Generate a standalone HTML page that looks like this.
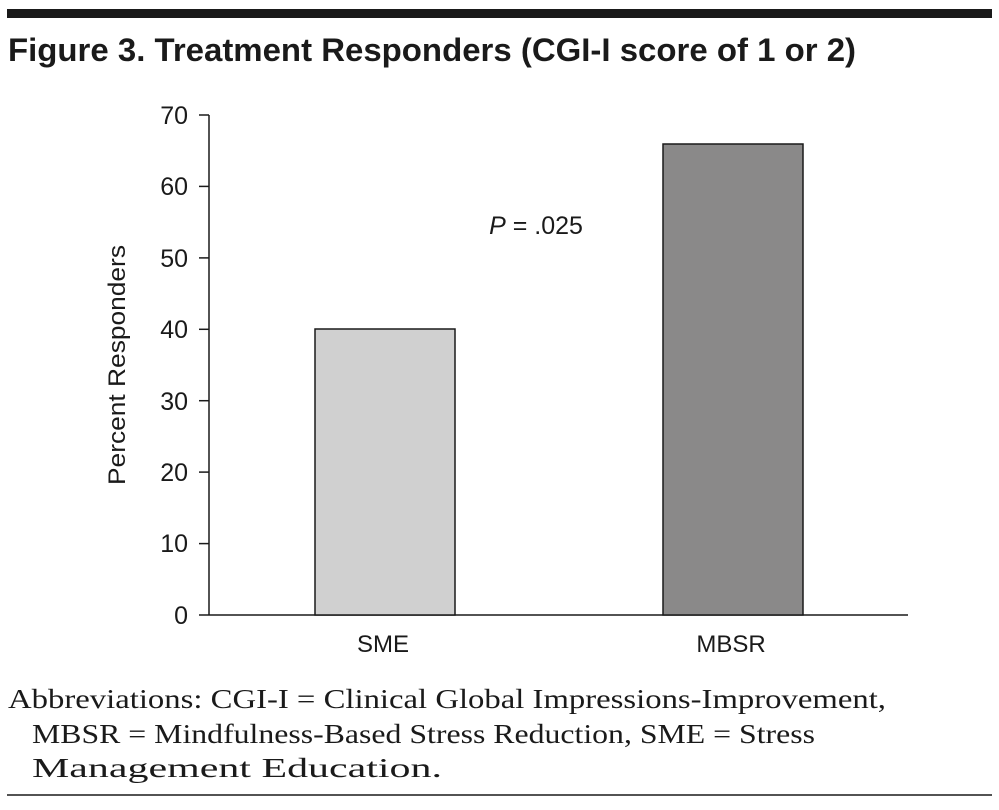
<!DOCTYPE html>
<html><head><style>
body{margin:0;background:#fff;width:999px;height:805px;overflow:hidden}
</style></head><body>
<svg width="999" height="805" xmlns="http://www.w3.org/2000/svg">
<rect x="7" y="9" width="985" height="9" fill="#1a1a1a"/>
<text x="8" y="61" font-family="Liberation Sans, sans-serif" font-weight="bold" font-size="32" fill="#1a1a1a" textLength="848" lengthAdjust="spacingAndGlyphs">Figure 3. Treatment Responders (CGI-I score of 1 or 2)</text>
<g stroke="#1a1a1a" stroke-width="1.5" fill="none">
<line x1="209" y1="115" x2="209" y2="615"/>
<line x1="209" y1="615" x2="908" y2="615"/>
<line x1="199" y1="115" x2="209" y2="115"/>
<line x1="199" y1="186.4" x2="209" y2="186.4"/>
<line x1="199" y1="257.9" x2="209" y2="257.9"/>
<line x1="199" y1="329.3" x2="209" y2="329.3"/>
<line x1="199" y1="400.7" x2="209" y2="400.7"/>
<line x1="199" y1="472.1" x2="209" y2="472.1"/>
<line x1="199" y1="543.6" x2="209" y2="543.6"/>
<line x1="199" y1="615" x2="209" y2="615"/>
</g>
<g font-family="Liberation Sans, sans-serif" font-size="25" fill="#1a1a1a" text-anchor="end">
<text x="188" y="124">70</text>
<text x="188" y="195">60</text>
<text x="188" y="267">50</text>
<text x="188" y="338">40</text>
<text x="188" y="410">30</text>
<text x="188" y="481">20</text>
<text x="188" y="552">10</text>
<text x="188" y="624">0</text>
</g>
<rect x="315" y="329" width="140" height="286" fill="#d0d0d0" stroke="#1a1a1a" stroke-width="1.5"/>
<rect x="663" y="144" width="140" height="471" fill="#8a8989" stroke="#1a1a1a" stroke-width="1.5"/>
<g font-family="Liberation Sans, sans-serif" font-size="24" fill="#1a1a1a" text-anchor="middle">
<text x="383" y="652">SME</text>
<text x="731" y="652">MBSR</text>
<text x="536" y="234" font-size="25"><tspan font-style="italic">P</tspan> = .025</text>
<text transform="translate(125,365) rotate(-90)" textLength="240" lengthAdjust="spacingAndGlyphs">Percent Responders</text>
</g>
<g font-family="Liberation Serif, serif" font-size="27" fill="#1a1a1a">
<text x="8" y="708" textLength="878" lengthAdjust="spacingAndGlyphs">Abbreviations: CGI-I = Clinical Global Impressions-Improvement,</text>
<text x="32" y="743" textLength="783" lengthAdjust="spacingAndGlyphs">MBSR = Mindfulness-Based Stress Reduction, SME = Stress</text>
<text x="32" y="777" textLength="410" lengthAdjust="spacingAndGlyphs">Management Education.</text>
</g>
<line x1="7" y1="795" x2="992" y2="795" stroke="#1a1a1a" stroke-width="1.5"/>
</svg>
</body></html>
